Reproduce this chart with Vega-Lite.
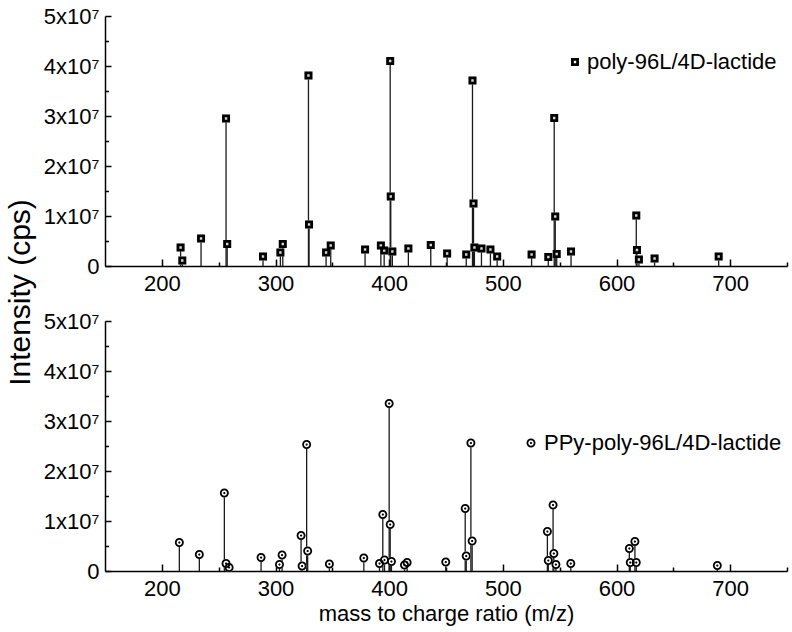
{
  "$schema": "https://vega.github.io/schema/vega-lite/v6.json",
  "padding": {"left": 5, "top": 5, "right": 5, "bottom": 5},
  "background": "white",
  "spacing": 55,
  "bounds": "flush",
  "resolve": {"scale": {"shape": "independent"}, "legend": {"shape": "independent"}},
  "config": {
    "font": "Liberation Sans",
    "view": {"stroke": null},
    "axis": {
      "grid": false,
      "domainColor": "black",
      "domainWidth": 1.5,
      "tickColor": "black",
      "tickWidth": 1.5,
      "labelColor": "black",
      "labelFontSize": 22,
      "labelOverlap": false,
      "labelFlush": false,
      "titleColor": "black",
      "titleFontWeight": "normal"
    },
    "legend": {"labelFontSize": 22, "labelColor": "black", "padding": 0, "labelLimit": 0}
  },
  "datasets": {
    "top": [
      {"mz": 216.5, "intensity": 3700000, "series": "poly-96L/4D-lactide"},
      {"mz": 218, "intensity": 1100000, "series": "poly-96L/4D-lactide"},
      {"mz": 234.5, "intensity": 5500000, "series": "poly-96L/4D-lactide"},
      {"mz": 256.5, "intensity": 29500000, "series": "poly-96L/4D-lactide"},
      {"mz": 257.5, "intensity": 4400000, "series": "poly-96L/4D-lactide"},
      {"mz": 289, "intensity": 1900000, "series": "poly-96L/4D-lactide"},
      {"mz": 304.3, "intensity": 2700000, "series": "poly-96L/4D-lactide"},
      {"mz": 306.4, "intensity": 4400000, "series": "poly-96L/4D-lactide"},
      {"mz": 329, "intensity": 38100000, "series": "poly-96L/4D-lactide"},
      {"mz": 329.5, "intensity": 8300000, "series": "poly-96L/4D-lactide"},
      {"mz": 344.5, "intensity": 2700000, "series": "poly-96L/4D-lactide"},
      {"mz": 348.6, "intensity": 4100000, "series": "poly-96L/4D-lactide"},
      {"mz": 378.8, "intensity": 3300000, "series": "poly-96L/4D-lactide"},
      {"mz": 392.7, "intensity": 4100000, "series": "poly-96L/4D-lactide"},
      {"mz": 395.6, "intensity": 3100000, "series": "poly-96L/4D-lactide"},
      {"mz": 400.9, "intensity": 41000000, "series": "poly-96L/4D-lactide"},
      {"mz": 401.4, "intensity": 13900000, "series": "poly-96L/4D-lactide"},
      {"mz": 402.8, "intensity": 2900000, "series": "poly-96L/4D-lactide"},
      {"mz": 416.9, "intensity": 3500000, "series": "poly-96L/4D-lactide"},
      {"mz": 436.6, "intensity": 4200000, "series": "poly-96L/4D-lactide"},
      {"mz": 451, "intensity": 2500000, "series": "poly-96L/4D-lactide"},
      {"mz": 467.8, "intensity": 2300000, "series": "poly-96L/4D-lactide"},
      {"mz": 473.3, "intensity": 37100000, "series": "poly-96L/4D-lactide"},
      {"mz": 474.2, "intensity": 12500000, "series": "poly-96L/4D-lactide"},
      {"mz": 475, "intensity": 3700000, "series": "poly-96L/4D-lactide"},
      {"mz": 481.2, "intensity": 3500000, "series": "poly-96L/4D-lactide"},
      {"mz": 489.1, "intensity": 3300000, "series": "poly-96L/4D-lactide"},
      {"mz": 495, "intensity": 1900000, "series": "poly-96L/4D-lactide"},
      {"mz": 525.3, "intensity": 2300000, "series": "poly-96L/4D-lactide"},
      {"mz": 540, "intensity": 1800000, "series": "poly-96L/4D-lactide"},
      {"mz": 545.2, "intensity": 29600000, "series": "poly-96L/4D-lactide"},
      {"mz": 546.1, "intensity": 9900000, "series": "poly-96L/4D-lactide"},
      {"mz": 547.4, "intensity": 2400000, "series": "poly-96L/4D-lactide"},
      {"mz": 560, "intensity": 2900000, "series": "poly-96L/4D-lactide"},
      {"mz": 617.4, "intensity": 10100000, "series": "poly-96L/4D-lactide"},
      {"mz": 618, "intensity": 3200000, "series": "poly-96L/4D-lactide"},
      {"mz": 619.7, "intensity": 1300000, "series": "poly-96L/4D-lactide"},
      {"mz": 633.5, "intensity": 1500000, "series": "poly-96L/4D-lactide"},
      {"mz": 689.9, "intensity": 1900000, "series": "poly-96L/4D-lactide"}
    ],
    "bottom": [
      {"mz": 215.4, "intensity": 5700000, "series": "PPy-poly-96L/4D-lactide"},
      {"mz": 233, "intensity": 3300000, "series": "PPy-poly-96L/4D-lactide"},
      {"mz": 255, "intensity": 15600000, "series": "PPy-poly-96L/4D-lactide"},
      {"mz": 256.5, "intensity": 1500000, "series": "PPy-poly-96L/4D-lactide"},
      {"mz": 259.2, "intensity": 700000, "series": "PPy-poly-96L/4D-lactide"},
      {"mz": 287.3, "intensity": 2700000, "series": "PPy-poly-96L/4D-lactide"},
      {"mz": 303.5, "intensity": 1300000, "series": "PPy-poly-96L/4D-lactide"},
      {"mz": 305.8, "intensity": 3200000, "series": "PPy-poly-96L/4D-lactide"},
      {"mz": 322.5, "intensity": 7100000, "series": "PPy-poly-96L/4D-lactide"},
      {"mz": 323.4, "intensity": 1000000, "series": "PPy-poly-96L/4D-lactide"},
      {"mz": 327.4, "intensity": 25300000, "series": "PPy-poly-96L/4D-lactide"},
      {"mz": 328.3, "intensity": 4000000, "series": "PPy-poly-96L/4D-lactide"},
      {"mz": 347.4, "intensity": 1400000, "series": "PPy-poly-96L/4D-lactide"},
      {"mz": 377.7, "intensity": 2600000, "series": "PPy-poly-96L/4D-lactide"},
      {"mz": 391.5, "intensity": 1500000, "series": "PPy-poly-96L/4D-lactide"},
      {"mz": 394.4, "intensity": 11300000, "series": "PPy-poly-96L/4D-lactide"},
      {"mz": 395.9, "intensity": 2200000, "series": "PPy-poly-96L/4D-lactide"},
      {"mz": 400, "intensity": 33500000, "series": "PPy-poly-96L/4D-lactide"},
      {"mz": 400.9, "intensity": 9300000, "series": "PPy-poly-96L/4D-lactide"},
      {"mz": 402, "intensity": 1900000, "series": "PPy-poly-96L/4D-lactide"},
      {"mz": 413.5, "intensity": 1200000, "series": "PPy-poly-96L/4D-lactide"},
      {"mz": 415.8, "intensity": 1700000, "series": "PPy-poly-96L/4D-lactide"},
      {"mz": 449.8, "intensity": 1800000, "series": "PPy-poly-96L/4D-lactide"},
      {"mz": 466.9, "intensity": 12500000, "series": "PPy-poly-96L/4D-lactide"},
      {"mz": 467.8, "intensity": 3000000, "series": "PPy-poly-96L/4D-lactide"},
      {"mz": 471.9, "intensity": 25600000, "series": "PPy-poly-96L/4D-lactide"},
      {"mz": 473, "intensity": 6000000, "series": "PPy-poly-96L/4D-lactide"},
      {"mz": 539.2, "intensity": 7900000, "series": "PPy-poly-96L/4D-lactide"},
      {"mz": 540, "intensity": 2100000, "series": "PPy-poly-96L/4D-lactide"},
      {"mz": 544.2, "intensity": 13200000, "series": "PPy-poly-96L/4D-lactide"},
      {"mz": 544.9, "intensity": 3500000, "series": "PPy-poly-96L/4D-lactide"},
      {"mz": 546.7, "intensity": 1300000, "series": "PPy-poly-96L/4D-lactide"},
      {"mz": 559.8, "intensity": 1500000, "series": "PPy-poly-96L/4D-lactide"},
      {"mz": 611.3, "intensity": 4500000, "series": "PPy-poly-96L/4D-lactide"},
      {"mz": 612.1, "intensity": 1700000, "series": "PPy-poly-96L/4D-lactide"},
      {"mz": 616.2, "intensity": 5900000, "series": "PPy-poly-96L/4D-lactide"},
      {"mz": 617.4, "intensity": 1700000, "series": "PPy-poly-96L/4D-lactide"},
      {"mz": 688.7, "intensity": 1100000, "series": "PPy-poly-96L/4D-lactide"}
    ]
  },
  "vconcat": [
    {
      "width": 682,
      "height": 250,
      "data": {"name": "top"},
      "encoding": {
        "x": {"field": "mz", "type": "quantitative", "scale": {"domain": [150, 750], "nice": false, "zero": false},
          "axis": {"title": null, "values": [200, 250, 300, 350, 400, 450, 500, 550, 600, 650, 700, 750],
            "tickSize": {"condition": {"test": "datum.value % 100 === 0", "value": -7}, "value": -4},
            "labelExpr": "datum.value % 100 === 0 ? datum.label : ''", "labelPadding": 14}},
        "y": {"field": "intensity", "type": "quantitative", "scale": {"domain": [0, 50000000], "nice": false},
          "axis": {"values": [0, 5000000, 10000000, 15000000, 20000000, 25000000, 30000000, 35000000, 40000000, 45000000, 50000000],
            "tickSize": {"condition": {"test": "datum.value % 10000000 === 0", "value": -6}, "value": -3.5},
            "labelExpr": "datum.value === 0 ? '0' : (datum.value % 10000000 === 0 ? (datum.value / 10000000) + 'x10⁷' : '')",
            "labelPadding": 12,
            "title": "Intensity (cps)", "titleFontSize": 30, "titleX": -85, "titleY": 276, "titleAngle": 270, "titleAlign": "center", "titleBaseline": "middle"}}
      },
      "layer": [
        {"mark": {"type": "rule", "color": "#1a1a1a", "strokeWidth": 1.3}, "encoding": {"y2": {"datum": 0}}},
        {"mark": {"type": "point", "filled": true, "color": "#d8d8d8", "opacity": 1, "shape": "square", "size": 64}},
        {"mark": {"type": "point", "filled": true, "color": "black", "opacity": 1, "size": 64, "strokeWidth": 0},
          "encoding": {"shape": {"field": "series", "type": "nominal",
            "scale": {"range": ["M-1,-1H1V1H-1Z M-0.3,-0.3V0.3H0.3V-0.3Z"]},
            "legend": {"title": null, "orient": "none", "legendX": 459, "legendY": 35, "symbolSize": 64, "symbolFillColor": "black", "symbolStrokeWidth": 0, "labelOffset": 1}}}}
      ]
    },
    {
      "width": 682,
      "height": 250,
      "data": {"name": "bottom"},
      "encoding": {
        "x": {"field": "mz", "type": "quantitative", "scale": {"domain": [150, 750], "nice": false, "zero": false},
          "axis": {"title": "mass to charge ratio (m/z)", "titleFontSize": 22, "titlePadding": 1, "values": [200, 250, 300, 350, 400, 450, 500, 550, 600, 650, 700, 750],
            "tickSize": {"condition": {"test": "datum.value % 100 === 0", "value": -7}, "value": -4},
            "labelExpr": "datum.value % 100 === 0 ? datum.label : ''", "labelPadding": 14}},
        "y": {"field": "intensity", "type": "quantitative", "scale": {"domain": [0, 50000000], "nice": false},
          "axis": {"values": [0, 5000000, 10000000, 15000000, 20000000, 25000000, 30000000, 35000000, 40000000, 45000000, 50000000],
            "tickSize": {"condition": {"test": "datum.value % 10000000 === 0", "value": -6}, "value": -3.5},
            "labelExpr": "datum.value === 0 ? '0' : (datum.value % 10000000 === 0 ? (datum.value / 10000000) + 'x10⁷' : '')",
            "labelPadding": 12, "title": null}}
      },
      "layer": [
        {"mark": {"type": "rule", "color": "#1a1a1a", "strokeWidth": 1.3}, "encoding": {"y2": {"datum": 0}}},
        {"mark": {"type": "point", "filled": true, "color": "white", "opacity": 1, "shape": "circle", "size": 81}},
        {"mark": {"type": "point", "filled": true, "color": "black", "opacity": 1, "size": 81, "strokeWidth": 0},
          "encoding": {"shape": {"field": "series", "type": "nominal",
            "scale": {"range": ["M-1,0A1,1 0 1,0 1,0A1,1 0 1,0 -1,0Z M-0.6,0A0.6,0.6 0 1,1 0.6,0A0.6,0.6 0 1,1 -0.6,0Z M-0.25,0A0.25,0.25 0 1,0 0.25,0A0.25,0.25 0 1,0 -0.25,0Z"]},
            "legend": {"title": null, "orient": "none", "legendX": 415, "legendY": 111, "symbolSize": 81, "symbolFillColor": "black", "symbolStrokeWidth": 0, "labelOffset": 2}}}}
      ]
    }
  ]
}
